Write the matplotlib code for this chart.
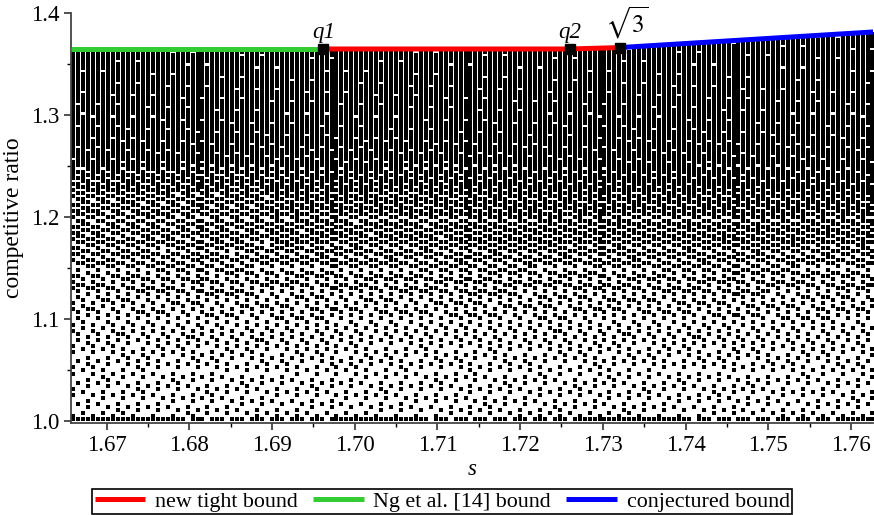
import matplotlib
matplotlib.use("Agg")
import matplotlib.pyplot as plt
import numpy as np

plt.rcParams['font.family'] = ['Liberation Serif', 'DejaVu Serif']
plt.rcParams['mathtext.fontset'] = 'stix'

# bound curves
ng_s = [1.6657, 1.6962]
ng_r = [1.3647, 1.3647]
tight_s = [1.6962, 1.7260, 1.7321]
tight_r = [1.3647, 1.3647, 1.3661]
conj_s = [1.7321, 1.7627]
conj_r = [1.3661, 1.3814]

# marked points
mark_s = [1.6962, 1.7260, 1.7321]
mark_r = [1.3647, 1.3647, 1.3661]
mark_labels = ['q1', 'q2', r'$\sqrt{3}$']

# sampled instances: grid of s and ratio, with estimated fill density per block
s_start, s_step, n_cols = 1.6660, 0.0006, 162
r_start, r_step, n_rows = 1.0015, 0.003, 128
s_edges = [1.6655, 1.690, 1.714, 1.738, 1.7635]
r_edges = [0.999, 1.003, 1.025, 1.05, 1.075, 1.1, 1.125, 1.15, 1.175,
           1.2, 1.225, 1.25, 1.275, 1.3, 1.33, 1.39]
density = [
    [0.85, 0.85, 0.85, 0.85],
    [0.19, 0.19, 0.19, 0.19],
    [0.20, 0.20, 0.20, 0.20],
    [0.22, 0.22, 0.22, 0.22],
    [0.25, 0.25, 0.25, 0.25],
    [0.29, 0.30, 0.30, 0.30],
    [0.35, 0.37, 0.37, 0.37],
    [0.42, 0.45, 0.45, 0.45],
    [0.48, 0.55, 0.58, 0.58],
    [0.52, 0.65, 0.70, 0.72],
    [0.70, 0.78, 0.82, 0.85],
    [0.90, 0.88, 0.90, 0.90],
    [0.93, 0.93, 0.93, 0.93],
    [0.94, 0.94, 0.94, 0.94],
    [0.96, 0.96, 0.96, 0.96],
]

cols = s_start + s_step * np.arange(n_cols)
rows = r_start + r_step * np.arange(n_rows)
bound_s = ng_s + tight_s[1:] + conj_s[1:]
bound_r = ng_r + tight_r[1:] + conj_r[1:]
dens = np.array(density)

# ordered dither threshold (R2 low-discrepancy pattern)
a1, a2 = 0.7548776662466927, 0.5698402909980532

pts_s, pts_r = [], []
for i, s in enumerate(cols):
    xb = min(np.searchsorted(s_edges, s) - 1, 3)
    top = np.interp(s, bound_s, bound_r)
    for j, r in enumerate(rows):
        if r > top:
            break
        yb = np.searchsorted(r_edges, r) - 1
        t = (0.5 + i * a1 + j * a2) % 1.0
        if dens[yb, xb] > t:
            pts_s.append(s)
            pts_r.append(r)

fig = plt.figure(figsize=(8.74, 5.15), dpi=100)
ax = fig.add_axes([0.0812, 0.1786, 0.918, 0.7962])

ax.scatter(pts_s, pts_r, marker='s', s=4.8, c='black', linewidths=0, zorder=2)

ax.plot(ng_s, ng_r, color='#33cc33', lw=3.6, solid_capstyle='butt', zorder=3,
        label='Ng et al. [14] bound')
ax.plot(tight_s, tight_r, color='#ff0000', lw=3.6, solid_capstyle='butt', zorder=3,
        label='new tight bound')
ax.plot(conj_s, conj_r, color='#0000ff', lw=3.6, solid_capstyle='butt', zorder=3,
        label='conjectured bound')
ax.plot(mark_s, mark_r, 's', color='black', ms=6.5, zorder=4)
for s, r, t in zip(mark_s, mark_r, mark_labels):
    if t.startswith('$'):
        ax.annotate(t, (s, r), xytext=(5, 5), textcoords='offset points',
                    ha='center', va='bottom', fontsize=18)
    else:
        ax.annotate(t, (s, r), xytext=(0, 4), textcoords='offset points',
                    ha='center', va='bottom', fontsize=16.5, style='italic')

ax.set_xlim(1.6657, 1.7627)
ax.set_ylim(0.998, 1.4)
ax.set_xticks([1.67, 1.68, 1.69, 1.70, 1.71, 1.72, 1.73, 1.74, 1.75, 1.76])
ax.set_xticks(np.arange(1.675, 1.765, 0.01), minor=True)
ax.set_yticks([1.0, 1.1, 1.2, 1.3, 1.4])
ax.set_yticks([1.05, 1.15, 1.25, 1.35], minor=True)
ax.set_xticklabels(['1.67', '1.68', '1.69', '1.70', '1.71', '1.72', '1.73', '1.74', '1.75', '1.76'])
ax.tick_params(labelsize=16.5, colors='#333333', labelcolor='black', width=1.2)
ax.tick_params(which='major', length=5)
ax.tick_params(which='minor', length=3, width=1.0)
for side in ['top', 'right']:
    ax.spines[side].set_visible(False)
for side in ['left', 'bottom']:
    ax.spines[side].set_color('#444444')
    ax.spines[side].set_linewidth(1.3)

ax.set_xlabel('s', fontsize=16.5, style='italic', labelpad=2)
ax.set_ylabel('competitive ratio', fontsize=17, labelpad=5)

h, l = ax.get_legend_handles_labels()
order = [1, 0, 2]
leg = fig.legend([h[k] for k in order], [l[k] for k in order], loc='lower center',
                 bbox_to_anchor=(0.506, 0.0), ncol=3, fontsize=15.8, frameon=True,
                 fancybox=False, edgecolor='black', framealpha=1, handlelength=2.3,
                 columnspacing=0.7, handletextpad=0.45, borderpad=0.1,
                 borderaxespad=0.05)
leg.get_frame().set_linewidth(1.2)

fig.savefig('out.png', dpi=100)
